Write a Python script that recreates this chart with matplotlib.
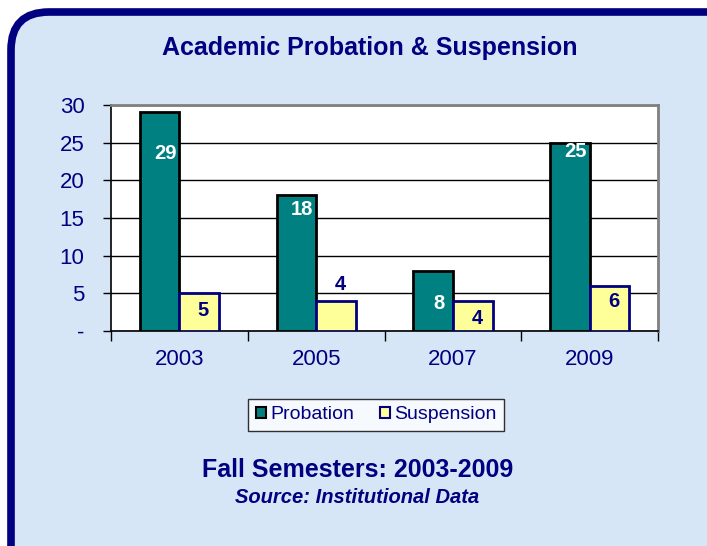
import numpy as np
import matplotlib.pyplot as plt
from matplotlib.patches import FancyBboxPatch, Rectangle

years = ["2003", "2005", "2007", "2009"]
probation = [29, 18, 8, 25]
suspension = [5, 4, 4, 6]
ytick_vals = [0, 5, 10, 15, 20, 25, 30]
ytick_text = ["-", "5", "10", "15", "20", "25", "30"]

navy = "#000080"
teal = "#008080"
pale = "#FFFF99"

plt.rcParams['font.family'] = ['Liberation Sans', 'DejaVu Sans']

fig = plt.figure(figsize=(7.07, 5.46), dpi=100)
fig.patch.set_facecolor("white")

# rounded frame, runs off the right and bottom edge
frame = FancyBboxPatch((11, -40), 740, 574, boxstyle="round,pad=0,rounding_size=38",
                       facecolor="#d7e6f6", edgecolor=navy, linewidth=5.5,
                       transform=None, zorder=-5)
fig.patches.append(frame)

ax = fig.add_axes([0.157, 0.394, 0.774, 0.414])
ax.set_zorder(2)
ax.set_facecolor("white")

x = np.arange(len(years))
w = 0.29
ax.bar(x - w / 2, probation, w, color=teal, edgecolor="black", linewidth=2, zorder=3)
ax.bar(x + w / 2, suspension, w, color=pale, edgecolor=navy, linewidth=2, zorder=3)

# label spots
prob_y = [23.6, 16.1, 3.6, 23.8]
susp_y = [2.7, 6.1, 1.7, 3.9]
for i in range(len(years)):
    ax.text(x[i] - w / 2 + 0.04, prob_y[i], str(probation[i]), color="white",
            fontsize=14.5, fontweight="bold", ha="center", va="center", zorder=4)
    ax.text(x[i] + w / 2 + 0.03, susp_y[i], str(suspension[i]), color=navy,
            fontsize=14.5, fontweight="bold", ha="center", va="center", zorder=4)

ax.set_xlim(-0.5, len(years) - 0.5)
ax.set_ylim(0, 30)
ax.set_yticks(ytick_vals)
ax.set_yticklabels(ytick_text)
ax.yaxis.grid(True, color="black", linewidth=1)
ax.set_axisbelow(True)

ax.set_xticks(x)
ax.set_xticklabels(years)
ax.set_xticks(np.arange(-0.5, len(years)), minor=True)
ax.tick_params(axis="x", which="major", length=0, pad=13, labelsize=16, labelcolor=navy)
ax.tick_params(axis="x", which="minor", length=7, width=1, direction="out", color="black")
ax.tick_params(axis="y", length=6, width=1, direction="out", pad=13, labelsize=16,
               labelcolor=navy)

for s in ["top", "right"]:
    ax.spines[s].set_color("#808080")
    ax.spines[s].set_linewidth(2)
for s in ["left", "bottom"]:
    ax.spines[s].set_color("black")
    ax.spines[s].set_linewidth(1.2)

fig.text(0.523, 0.912, "Academic Probation & Suspension", color=navy, fontsize=18,
         fontweight="bold", ha="center", va="center")

leg_handles = [Rectangle((0, 0), 1, 1, facecolor=teal, edgecolor="black", linewidth=1.5),
               Rectangle((0, 0), 1, 1, facecolor=pale, edgecolor=navy, linewidth=1.5)]
leg = fig.legend(leg_handles, ["Probation", "Suspension"], loc="center",
                 bbox_to_anchor=(0.532, 0.240), ncol=2, fontsize=14, frameon=True,
                 fancybox=False, edgecolor="black", handlelength=0.55, handleheight=0.55,
                 handletextpad=0.2, columnspacing=1.3, borderpad=0.4)
leg.get_frame().set_linewidth(1)
for t in leg.get_texts():
    t.set_color(navy)

fig.text(0.506, 0.139, "Fall Semesters: 2003-2009", color=navy, fontsize=18,
         fontweight="bold", ha="center", va="center")
fig.text(0.505, 0.089, "Source: Institutional Data", color=navy, fontsize=14.5,
         fontweight="bold", fontstyle="italic", ha="center", va="center")

fig.savefig("out.png", dpi=100)
